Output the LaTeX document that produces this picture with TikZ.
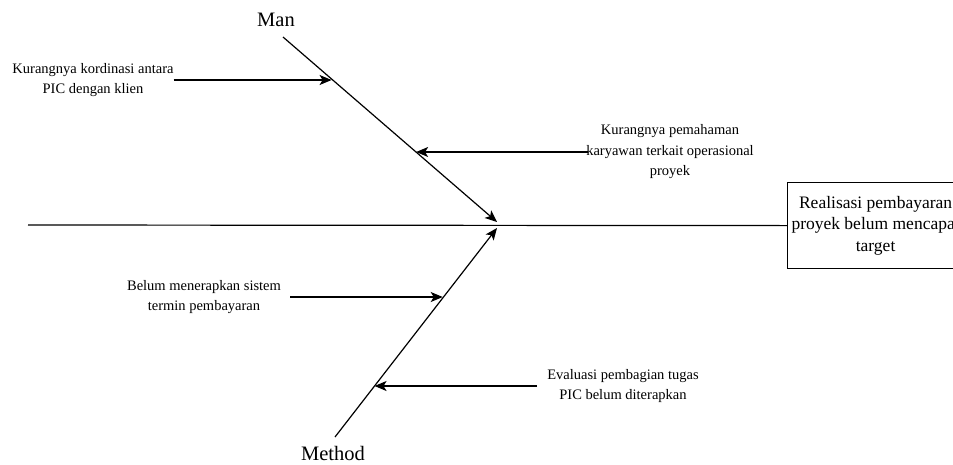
\documentclass[tikz,border=0pt]{standalone}
\usepackage{fontspec}
\setmainfont{Liberation Serif}
\usetikzlibrary{positioning,arrows.meta,calc}

\begin{document}
\begin{tikzpicture}[x=1pt, y=-1pt,
    cause/.style={align=center, inner sep=0pt, font=\fontsize{14.5}{20.5}\selectfont},
    category/.style={inner sep=0pt, font=\fontsize{20.5}{24}\selectfont},
    hit/.style={line width=1.2pt, -{Stealth[length=12pt, width=10pt, inset=3pt]}}]
    \useasboundingbox (0,0) rectangle (953,464);

    \node [draw, line width=1.2pt, anchor=north west, minimum width=176pt, minimum height=86pt,
        align=center, inner sep=0pt, font=\fontsize{17.5}{21.5}\selectfont] (effect) at (787,182)
        {Realisasi pembayaran\\proyek belum mencapai\\target};
    \coordinate (tail) at (28,225);
    \coordinate (mantop) at (283,37);
    \coordinate (manend) at (497,222);
    \coordinate (methodbot) at (335,437);
    \coordinate (methodend) at (497,228);
    \coordinate (b1) at ($(mantop)!0.227!(manend)$);
    \coordinate (b2) at ($(mantop)!0.622!(manend)$);
    \coordinate (b3) at ($(methodbot)!0.665!(methodend)$);
    \coordinate (b4) at ($(methodbot)!0.244!(methodend)$);

    \node [category] (man) at (276,20) {Man};
    \node [category] (method) at (333,453) {Method};

    \node [cause] (k1) at (93,80) {Kurangnya kordinasi antara\\PIC dengan klien};
    \node [cause] (k2) at (670,152) {Kurangnya pemahaman\\karyawan terkait operasional\\proyek};
    \node [cause] (k3) at (204,297) {Belum menerapkan sistem\\termin pembayaran};
    \node [cause] (k4) at (623,386) {Evaluasi pembagian tugas\\PIC belum diterapkan};

    \draw [line width=1.2pt] (tail) -- (effect.west);
    \draw [hit] (mantop) -- (manend);
    \draw [hit] (methodbot) -- (methodend);
    \draw [hit] (k1.east) -- (k1.east -| b1);
    \draw [hit, shorten <=-2pt] (k2.west) -- (k2.west -| b2);
    \draw [hit, shorten <=9pt] (k3.east) -- (k3.east -| b3);
    \draw [hit, shorten <=10pt] (k4.west) -- (k4.west -| b4);
\end{tikzpicture}
\end{document}
